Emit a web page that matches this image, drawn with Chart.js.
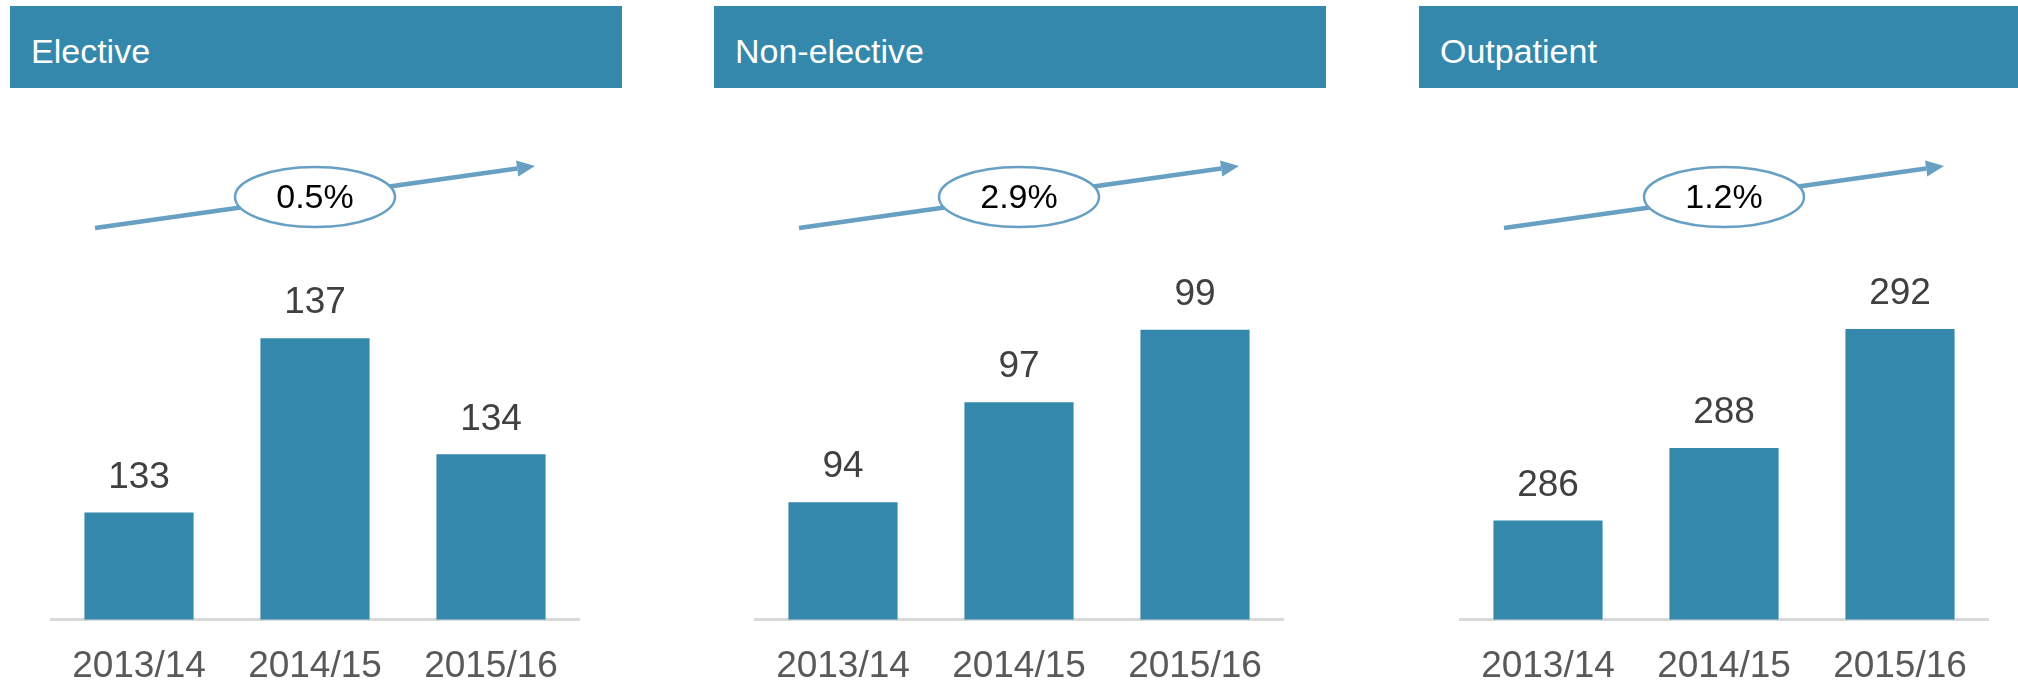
<!DOCTYPE html>
<html>
<head>
<meta charset="utf-8">
<script src="https://cdn.jsdelivr.net/npm/chart.js@4.4.0/dist/chart.umd.min.js"></script>
<style>
  html, body { margin: 0; padding: 0; background: #fff; }
  body { width: 2018px; height: 687px; position: relative; overflow: hidden; font-family: "Liberation Sans", Arial, sans-serif; }
  .panel { position: absolute; top: 0; width: 612px; height: 687px; }
  .header { position: absolute; left: 0; top: 6px; width: 612px; height: 82px; background: #3388ac; color: #fff;
            font-size: 34px; line-height: 90px; padding-left: 21px; box-sizing: border-box; }
  .panel canvas { position: absolute; left: 0; top: 90px; }
</style>
</head>
<body>
<script>
// Panel titles and categories
const titles = ['Elective', 'Non-elective', 'Outpatient'];
const years = ['2013/14', '2014/15', '2015/16'];

// Values per panel (labels show the rounded figure)
const electiveValues = [133.1, 137.0, 134.4];
const nonElectiveValues = [94.0, 96.9, 99.0];
const outpatientValues = [286.0, 288.2, 291.8];

// Growth figure shown in the ellipse over each panel
const growthLabels = ['0.5%', '2.9%', '1.2%'];

// Value axis range for each panel (axis itself is hidden)
const axisMin = [130.7, 90.6, 283];
const axisMax = [139.2, 101.6, 294.5];

const panelLeft = [10, 714, 1419];
const seriesList = [electiveValues, nonElectiveValues, outpatientValues];

const barColor = '#3388ac';
const arrowColor = '#67a0c3';
const fontFamily = '"Liberation Sans", Arial, sans-serif';

// Draws the rounded value above each bar
const barLabelPlugin = {
    id: 'barLabels',
    afterDatasetsDraw: function(chart) {
        const ctx = chart.ctx;
        const meta = chart.getDatasetMeta(0);
        ctx.save();
        ctx.font = '37px ' + fontFamily;
        ctx.fillStyle = '#404040';
        ctx.textAlign = 'center';
        ctx.textBaseline = 'middle';
        meta.data.forEach(function(bar, i) {
            ctx.fillText(String(Math.round(chart.data.datasets[0].data[i])), bar.x, bar.y - 35);
        });
        ctx.restore();
    }
};

// Trend arrow with the growth figure in an ellipse
const trendArrowPlugin = {
    id: 'trendArrow',
    afterDraw: function(chart, args, opts) {
        const ctx = chart.ctx;
        const x1 = 85, y1 = 138, x2 = 525, y2 = 76;
        const ang = Math.atan2(y2 - y1, x2 - x1);
        const headLen = 18, headW = 8;
        ctx.save();
        ctx.strokeStyle = arrowColor;
        ctx.fillStyle = arrowColor;
        ctx.lineWidth = 4.5;
        ctx.beginPath();
        ctx.moveTo(x1, y1);
        ctx.lineTo(x2 - headLen * Math.cos(ang), y2 - headLen * Math.sin(ang));
        ctx.stroke();
        ctx.beginPath();
        ctx.moveTo(x2, y2);
        ctx.lineTo(x2 - headLen * Math.cos(ang) - headW * Math.sin(ang), y2 - headLen * Math.sin(ang) + headW * Math.cos(ang));
        ctx.lineTo(x2 - headLen * Math.cos(ang) + headW * Math.sin(ang), y2 - headLen * Math.sin(ang) - headW * Math.cos(ang));
        ctx.closePath();
        ctx.fill();

        // ellipse
        ctx.beginPath();
        ctx.ellipse(305, 107, 80, 30, 0, 0, Math.PI * 2);
        ctx.fillStyle = '#ffffff';
        ctx.fill();
        ctx.lineWidth = 2.5;
        ctx.stroke();

        ctx.fillStyle = '#000000';
        ctx.font = '34px ' + fontFamily;
        ctx.textAlign = 'center';
        ctx.textBaseline = 'middle';
        ctx.fillText(opts.text, 305, 109);
        ctx.restore();
    }
};

titles.forEach(function(title, p) {
    const panel = document.createElement('div');
    panel.className = 'panel';
    panel.style.left = panelLeft[p] + 'px';

    const header = document.createElement('div');
    header.className = 'header';
    header.textContent = title;
    panel.appendChild(header);

    const canvas = document.createElement('canvas');
    canvas.width = 612;
    canvas.height = 624;
    canvas.style.width = '612px';
    canvas.style.height = '624px';
    panel.appendChild(canvas);
    document.body.appendChild(panel);

    new Chart(canvas.getContext('2d'), {
        type: 'bar',
        data: {
            labels: years,
            datasets: [{
                data: seriesList[p],
                backgroundColor: barColor,
                borderWidth: 0,
                categoryPercentage: 1,
                barPercentage: 0.62
            }]
        },
        options: {
            responsive: false,
            animation: false,
            events: [],
            layout: {
                padding: { left: 41, right: 43, top: 150, bottom: 0 }
            },
            scales: {
                x: {
                    grid: { display: false, drawTicks: false },
                    border: { display: true, color: '#d9d9d9', width: 3 },
                    ticks: {
                        color: '#595959',
                        padding: 25,
                        font: { family: fontFamily, size: 37 }
                    }
                },
                y: {
                    display: false,
                    min: axisMin[p],
                    max: axisMax[p]
                }
            },
            plugins: {
                legend: { display: false },
                tooltip: { enabled: false },
                trendArrow: { text: growthLabels[p] }
            }
        },
        plugins: [barLabelPlugin, trendArrowPlugin]
    });
});
</script>
</body>
</html>
